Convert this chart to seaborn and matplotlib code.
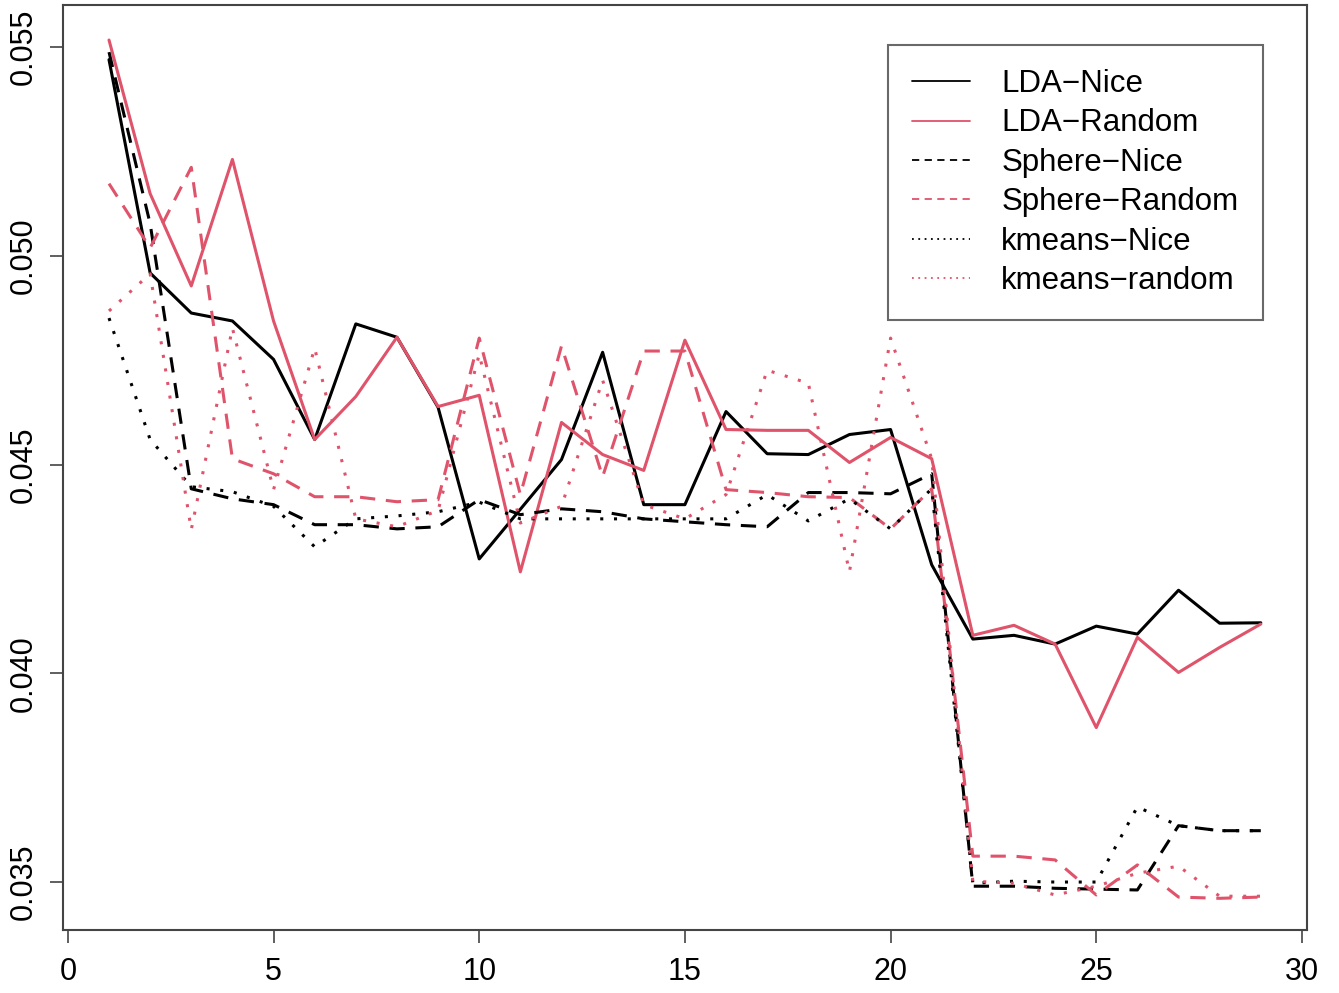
import numpy as np
import pandas as pd
import matplotlib
matplotlib.use("Agg")
import matplotlib.pyplot as plt
from matplotlib.lines import Line2D
import seaborn as sns

# number of clusters / iteration index
steps = list(range(1, 30))

lda_nice = [0.0547, 0.04959, 0.04863, 0.04844, 0.04752, 0.04560, 0.04837, 0.04805, 0.04637, 0.04274,
            0.04393, 0.04512, 0.04769, 0.04404, 0.04404, 0.04627, 0.04526, 0.04524, 0.04572, 0.04584,
            0.04260, 0.04082, 0.04091, 0.04070, 0.04113, 0.04094, 0.04199, 0.04120, 0.04121]
lda_random = [0.05517, 0.05149, 0.04928, 0.05231, 0.04844, 0.04560, 0.04663, 0.04805, 0.04639, 0.04666,
              0.04243, 0.04601, 0.04524, 0.04486, 0.04798, 0.04584, 0.04582, 0.04582, 0.04505, 0.04565,
              0.04514, 0.04091, 0.04115, 0.04070, 0.03870, 0.04086, 0.04002, 0.04062, 0.04118]
sphere_nice = [0.05488, 0.05077, 0.04442, 0.04418, 0.04404, 0.04356, 0.04356, 0.04346, 0.04351, 0.04416,
               0.04380, 0.04394, 0.04387, 0.04370, 0.04363, 0.04356, 0.04351, 0.04433, 0.04433, 0.04430,
               0.04478, 0.03490, 0.03490, 0.03485, 0.03483, 0.03481, 0.03635, 0.03623, 0.03623]
sphere_random = [0.05173, 0.05019, 0.05212, 0.04514, 0.04478, 0.04423, 0.04423, 0.04411, 0.04416, 0.04803,
                 0.04428, 0.04784, 0.04471, 0.04772, 0.04772, 0.04440, 0.04433, 0.04423, 0.04421, 0.04346,
                 0.04442, 0.03562, 0.03562, 0.03553, 0.03469, 0.03541, 0.03464, 0.03461, 0.03464]
kmeans_nice = [0.04851, 0.04560, 0.04447, 0.04435, 0.04400, 0.04303, 0.04370, 0.04377, 0.04387, 0.04410,
               0.04370, 0.04370, 0.04370, 0.04370, 0.04370, 0.04370, 0.04428, 0.04365, 0.04418, 0.04346,
               0.04442, 0.03497, 0.03502, 0.03500, 0.03500, 0.03680, 0.03635, 0.03623, 0.03623]
kmeans_random = [0.04868, 0.04957, 0.04344, 0.04827, 0.04440, 0.04779, 0.04370, 0.04351, 0.04390, 0.04764,
                 0.04360, 0.04400, 0.04702, 0.04404, 0.04370, 0.04428, 0.04726, 0.04695, 0.04243, 0.04803,
                 0.04514, 0.03502, 0.03497, 0.03469, 0.03490, 0.03521, 0.03538, 0.03466, 0.03466]

labels = ["LDA\u2212Nice", "LDA\u2212Random", "Sphere\u2212Nice",
          "Sphere\u2212Random", "kmeans\u2212Nice", "kmeans\u2212random"]
series = [lda_nice, lda_random, sphere_nice, sphere_random, kmeans_nice, kmeans_random]

black = "#000000"
red = "#DF536B"
colors = [black, red, black, red, black, red]
dash_solid = ""
dash_dash = (5, 3.5)
dash_dot = (1, 3.5)
dashes = [dash_solid, dash_solid, dash_dash, dash_dash, dash_dot, dash_dot]

sns.set_style("white")
plt.rcParams["font.family"] = ["Liberation Sans", "DejaVu Sans"]

fig = plt.figure(figsize=(13.39, 9.93), dpi=100)
ax = fig.add_axes([0.047, 0.0634, 0.929, 0.9316])

for vals, col, d in zip(series, colors, dashes):
    df = pd.DataFrame({"x": steps, "y": vals})
    sns.lineplot(data=df, x="x", y="y", color=col, linewidth=2.2, ax=ax)
    ln = ax.get_lines()[-1]
    if d:
        ln.set_dashes(d)
    ln.set_dash_capstyle("butt")

ax.set_xlim(-0.12, 30.12)
ax.set_ylim(0.03385, 0.05601)
ax.set_xticks([0, 5, 10, 15, 20, 25, 30])
ax.set_yticks([0.035, 0.040, 0.045, 0.050, 0.055])
ax.set_yticklabels(["0.035", "0.040", "0.045", "0.050", "0.055"], rotation=90, va="center")
ax.set_xlabel("")
ax.set_ylabel("")

for sp in ax.spines.values():
    sp.set_color("#444444")
    sp.set_linewidth(1.5)
ax.tick_params(axis="both", which="major", direction="out", length=9.5, width=1.2,
               color="#444444", labelsize=22, labelcolor="black", left=True, bottom=True)
ax.tick_params(axis="x", pad=10)
ax.tick_params(axis="y", pad=8)

# thin legend keys, as in the original
handles = []
for c, d in zip(colors, dashes):
    h = Line2D([0], [0], color=c, linewidth=1.3)
    if d == dash_dash:
        h.set_dashes((4, 3))
    elif d == dash_dot:
        h.set_dashes((1, 2.5))
    handles.append(h)

leg = ax.legend(handles, labels, loc="upper right", bbox_to_anchor=(0.9645, 0.957),
                borderaxespad=0, fontsize=22.5, frameon=True, fancybox=False,
                handlelength=1.85, handletextpad=1.0, labelspacing=0.3,
                borderpad=0.78, edgecolor="#444444")
leg.get_frame().set_linewidth(1.5)
for t in leg.get_texts():
    t.set_color("black")

fig.savefig("out.png", dpi=100)
